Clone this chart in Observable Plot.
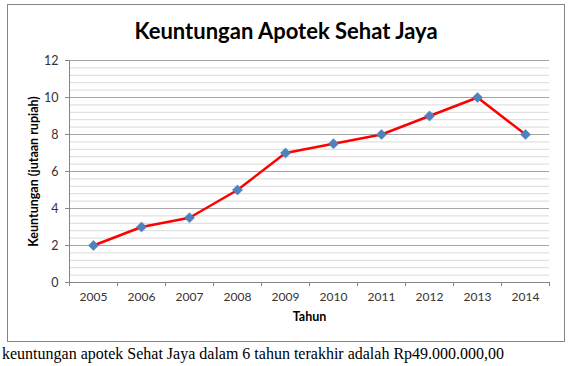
<!DOCTYPE html>
<html>
<head>
<meta charset="utf-8">
<script src="https://cdn.jsdelivr.net/npm/d3@7"></script>
<script src="https://cdn.jsdelivr.net/npm/@observablehq/plot@0.6"></script>
<style>
  html, body { margin: 0; padding: 0; background: #fff; }
  #wrap { position: relative; width: 571px; height: 366px; overflow: hidden; }
  #box { position: absolute; left: 7px; top: 4px; width: 556px; height: 336px; border: 1px solid #868686; }
  #title { position: absolute; left: 7px; width: 558px; top: 18px; text-align: center;
           font-family: Lato, sans-serif; font-weight: bold; font-size: 22px; line-height: 26px; color: #000; }
  #caption { position: absolute; left: 2px; top: 345px; font-family: "Liberation Serif", "Times New Roman", serif;
             font-size: 16px; line-height: 18px; color: #000; white-space: nowrap; }
  #box svg { position: absolute; left: 0; top: 0; }
</style>
</head>
<body>
<div id="wrap">
  <div id="box"></div>
  <div id="title"></div>
  <div id="caption"></div>
</div>
<script>
const titleText = "Keuntungan Apotek Sehat Jaya";
const xLabel = "Tahun";
const yLabel = "Keuntungan (jutaan rupiah)";
const captionText = "keuntungan apotek Sehat Jaya dalam 6 tahun terakhir adalah Rp49.000.000,00";

const years = [2005, 2006, 2007, 2008, 2009, 2010, 2011, 2012, 2013, 2014];
const profits = [2, 3, 3.5, 5, 7, 7.5, 8, 9, 10, 8];
const yTicks = [0, 2, 4, 6, 8, 10, 12];

const data = years.map((year, i) => ({year, value: profits[i]}));

const minorGrid = d3.range(0, 61).map(k => k * 0.2).filter((v, k) => k % 2 === 0 && k % 10 !== 0);
const boundaries = years.map(y => y - 0.5).concat([years[years.length - 1] + 0.5]);

document.getElementById("title").textContent = titleText;
document.getElementById("caption").textContent = captionText;

const chart = Plot.plot({
  width: 556,
  height: 336,
  marginLeft: 61,
  marginRight: 15,
  marginTop: 55,
  marginBottom: 59,
  style: { fontFamily: "Lato, sans-serif", fontSize: "12px", color: "#333", background: "transparent" },
  x: { type: "linear", domain: [years[0] - 0.5, years[years.length - 1] + 0.5] },
  y: { domain: [0, 12] },
  marks: [
    Plot.ruleY(minorGrid, { stroke: "#d9d9d9", strokeWidth: 1 }),
    Plot.ruleY(yTicks, { stroke: "#a6a6a6", strokeWidth: 1 }),
    Plot.ruleX([boundaries[0]], { stroke: "#868686" }),
    Plot.ruleY([0], { stroke: "#868686" }),
    Plot.axisY({ ticks: yTicks, tickSize: 4, tickPadding: 7, stroke: "#868686", label: null, fill: "#333", fontSize: 12.5 }),
    Plot.axisX({ ticks: years, tickSize: 0, tickPadding: 10, tickFormat: d => String(d), label: null, fill: "#333" }),
    Plot.axisX({ ticks: boundaries, tickSize: 4, tickFormat: () => "", stroke: "#868686", label: null }),
    Plot.line(data, { x: "year", y: "value", stroke: "#ff0000", strokeWidth: 2.5 }),
    Plot.dot(data, { x: "year", y: "value", symbol: "diamond2", r: 4.6, fill: "#4f81bd", stroke: "#4a7ebb", strokeWidth: 0.5 }),
    Plot.text([yLabel], { frameAnchor: "left", textAnchor: "middle", rotate: -90, dx: -36, fontWeight: "bold", fontSize: 12.5, fill: "#000" }),
    Plot.text([xLabel], { frameAnchor: "bottom", textAnchor: "middle", dy: 38, fontWeight: "bold", fontSize: 12.5, fill: "#000" })
  ]
});
document.getElementById("box").appendChild(chart);
</script>
</body>
</html>
